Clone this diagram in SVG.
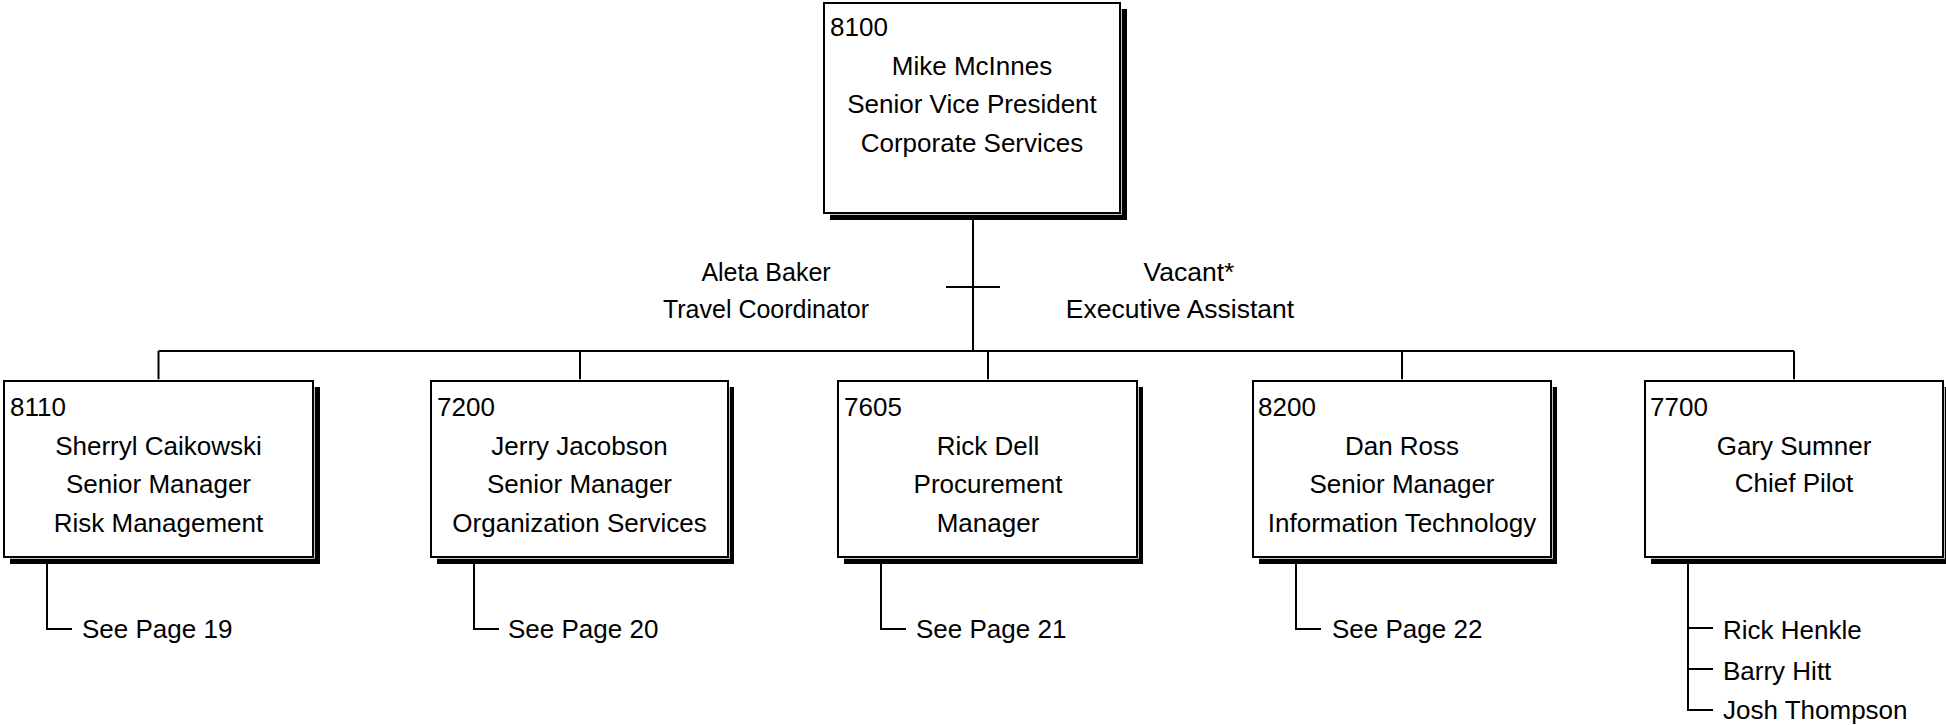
<svg xmlns="http://www.w3.org/2000/svg" width="1946" height="725" viewBox="0 0 1946 725">
<style>
text{font-family:"Liberation Sans",Arial,sans-serif;font-size:26px;fill:#000}
.c{text-anchor:middle}
.a{font-size:25px}
.b{font-size:26.5px}
.sh{fill:#000}
.gap{fill:#fff;stroke:#fff;stroke-width:3.5}
.bx{fill:#fff;stroke:#000;stroke-width:2}
.ln{fill:none;stroke:#000;stroke-width:2}
</style>
<rect width="1946" height="725" fill="#fff"/>
<g id="connectors">
<path class="ln" d="M973 213V351M946 287H1000M158.5 351H1794M158.5 351V381M580 351V381M988 351V381M1402 351V381M1794 351V381"/>
<path class="ln" d="M47 557V629H72M474 557V629H499M881 557V629H906M1296 557V629H1321M1688 557V710H1713M1688 628H1713M1688 669H1713"/>
</g>
<g id="n8100">
<rect class="sh" x="830" y="9" width="297" height="211"/>
<rect class="gap" x="824" y="3" width="296" height="210"/>
<rect class="bx" x="824" y="3" width="296" height="210"/>
<text x="830" y="36">8100</text>
<text class="c" x="972" y="75">Mike McInnes</text>
<text class="c" x="972" y="113">Senior Vice President</text>
<text class="c" x="972" y="152">Corporate Services</text>
</g>
<g id="assistants">
<text class="c a" x="766" y="281">Aleta Baker</text>
<text class="c a" x="766" y="318">Travel Coordinator</text>
<text class="c b" x="1189" y="281">Vacant*</text>
<text class="c b" x="1180" y="318">Executive Assistant</text>
</g>
<g id="n8110">
<rect class="sh" x="10" y="387" width="310" height="177"/>
<rect class="gap" x="4" y="381" width="309" height="176"/>
<rect class="bx" x="4" y="381" width="309" height="176"/>
<text x="10" y="416">8110</text>
<text class="c" x="158.5" y="455">Sherryl Caikowski</text>
<text class="c" x="158.5" y="493">Senior Manager</text>
<text class="c" x="158.5" y="532">Risk Management</text>
</g>
<g id="n7200">
<rect class="sh" x="437" y="387" width="297" height="177"/>
<rect class="gap" x="431" y="381" width="297" height="176"/>
<rect class="bx" x="431" y="381" width="297" height="176"/>
<text x="437" y="416">7200</text>
<text class="c" x="579.5" y="455">Jerry Jacobson</text>
<text class="c" x="579.5" y="493">Senior Manager</text>
<text class="c" x="579.5" y="532">Organization Services</text>
</g>
<g id="n7605">
<rect class="sh" x="844" y="387" width="299" height="177"/>
<rect class="gap" x="838" y="381" width="299" height="176"/>
<rect class="bx" x="838" y="381" width="299" height="176"/>
<text x="844" y="416">7605</text>
<text class="c" x="988" y="455">Rick Dell</text>
<text class="c" x="988" y="493">Procurement</text>
<text class="c" x="988" y="532">Manager</text>
</g>
<g id="n8200">
<rect class="sh" x="1259" y="387" width="298" height="177"/>
<rect class="gap" x="1253" y="381" width="298" height="176"/>
<rect class="bx" x="1253" y="381" width="298" height="176"/>
<text x="1258" y="416">8200</text>
<text class="c" x="1402" y="455">Dan Ross</text>
<text class="c" x="1402" y="493">Senior Manager</text>
<text class="c" x="1402" y="532">Information Technology</text>
</g>
<g id="n7700">
<rect class="sh" x="1651" y="387" width="298" height="177"/>
<rect class="gap" x="1645" y="381" width="298" height="176"/>
<rect class="bx" x="1645" y="381" width="298" height="176"/>
<text x="1650" y="416">7700</text>
<text class="c" x="1794" y="455">Gary Sumner</text>
<text class="c" x="1794" y="492">Chief Pilot</text>
</g>
<g id="subs">
<text x="82" y="638">See Page 19</text>
<text x="508" y="638">See Page 20</text>
<text x="916" y="638">See Page 21</text>
<text x="1332" y="638">See Page 22</text>
<text x="1723" y="639">Rick Henkle</text>
<text x="1723" y="680">Barry Hitt</text>
<text x="1723" y="719">Josh Thompson</text>
</g>
</svg>
